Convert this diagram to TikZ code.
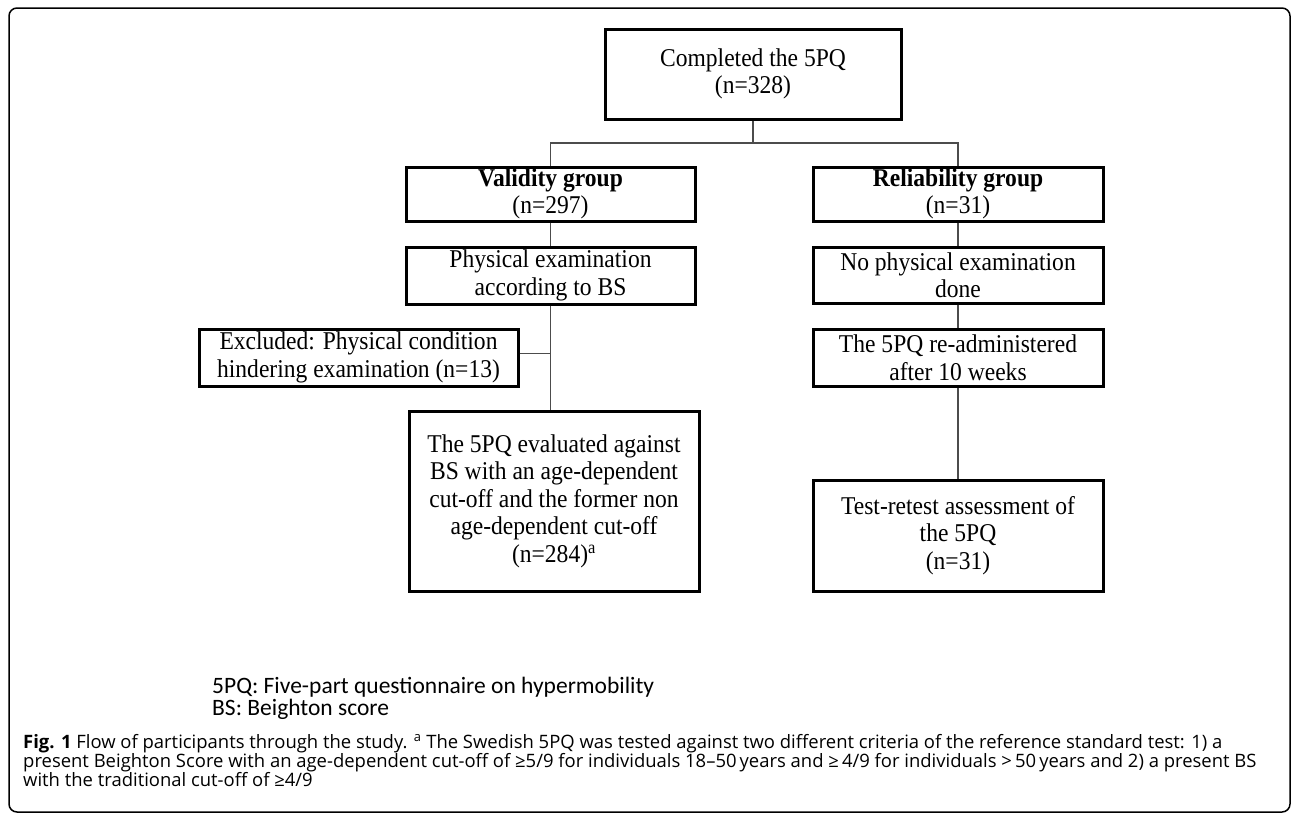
\documentclass[tikz,border=0pt]{standalone}
\usepackage{fontspec}
\setmainfont{Liberation Serif}[FakeStretch=0.92]
\newfontfamily\capfont{Open Sans}
\newfontfamily\legfont{Carlito}
\usepackage{tikz}
\usetikzlibrary{calc}

\newcommand{\boxfont}{\fontsize{25.6}{27.5}\selectfont}
\newcommand{\captext}{\capfont\fontsize{18.45}{19}\selectfont}

\begin{document}
\begin{tikzpicture}[x=1pt,y=-1pt,
    flowbox/.style={draw,line width=3pt,align=center,inner sep=0pt,font=\boxfont},
    link/.style={draw=black!70,line width=1.5pt}]
  \useasboundingbox (0,0) rectangle (1292,814);
  \draw[line width=1.5pt,rounded corners=8pt] (9,8) rectangle (1290,812);

  \node[flowbox,minimum width=296pt,minimum height=90pt] (all) at (753,74)
    {Completed the 5PQ\\(n=328)};

  \node[flowbox,minimum width=289pt,minimum height=54pt] (valid) at (550.5,194)
    {\textbf{Validity group}\\(n=297)};
  \node[flowbox,minimum width=290pt,minimum height=54pt] (rel) at (958,194)
    {\textbf{Reliability group}\\(n=31)};

  \node[flowbox,minimum width=289pt,minimum height=57pt] (phys) at (550.5,275.5)
    {Physical examination\\according to BS};
  \node[flowbox,minimum width=290pt,minimum height=56pt] (nophys) at (958,275)
    {No physical examination\\done};

  \node[flowbox,minimum width=319pt,minimum height=57pt] (excl) at (358.5,357.5)
    {Excluded: Physical condition\\hindering examination (n=13)};
  \node[flowbox,minimum width=290pt,minimum height=57pt] (readm) at (958,357.5)
    {The 5PQ re-administered\\after 10 weeks};

  \node[flowbox,minimum width=290pt,minimum height=180pt] (eval) at (554,501)
    {The 5PQ evaluated against\\BS with an age-dependent\\cut-off and the former non\\age-dependent cut-off\\(n=284)\textsuperscript{a}};
  \node[flowbox,minimum width=290pt,minimum height=111pt] (retest) at (958,535.5)
    {Test-retest assessment of\\the 5PQ\\(n=31)};

  % split into the two groups
  \coordinate (split) at (753,143);
  \draw[link] (all.south) -- (split);
  \draw[link] (valid.north) |- (split) -| (rel.north);

  % validity branch
  \draw[link] (valid.south) -- (phys.north);
  \draw[link] (phys.south) -- (phys.south |- eval.north);
  \coordinate (exclout) at ([yshift=4pt]excl.east);
  \draw[link] (exclout) -- (phys.south |- exclout);

  % reliability branch
  \draw[link] (rel.south) -- (nophys.north);
  \draw[link] (nophys.south) -- (readm.north);
  \draw[link] (readm.south) -- (retest.north);

  % legend and caption
  \node[anchor=base west,inner sep=0pt,font=\legfont\fontsize{23.5}{24}\selectfont] (leg1) at (212,693)
    {5PQ: Five-part questionnaire on hypermobility};
  \node[anchor=base west,inner sep=0pt,font=\legfont\fontsize{23.5}{24}\selectfont] (leg2) at (212,715)
    {BS: Beighton score};

  \node[anchor=base west,inner sep=0pt,font=\captext] (cap1) at (23,748)
    {\textbf{Fig. 1} Flow of participants through the study. \textsuperscript{a} The Swedish 5PQ was tested against two different criteria of the reference standard test: 1) a};
  \node[anchor=base west,inner sep=0pt,font=\captext] (cap2) at (23,767)
    {present Beighton Score with an age-dependent cut-off of ≥5/9 for individuals 18–50\,years and ≥\,4/9 for individuals >\,50\,years and 2) a present BS};
  \node[anchor=base west,inner sep=0pt,font=\captext] (cap3) at (23,786)
    {with the traditional cut-off of ≥4/9};
\end{tikzpicture}
\end{document}
